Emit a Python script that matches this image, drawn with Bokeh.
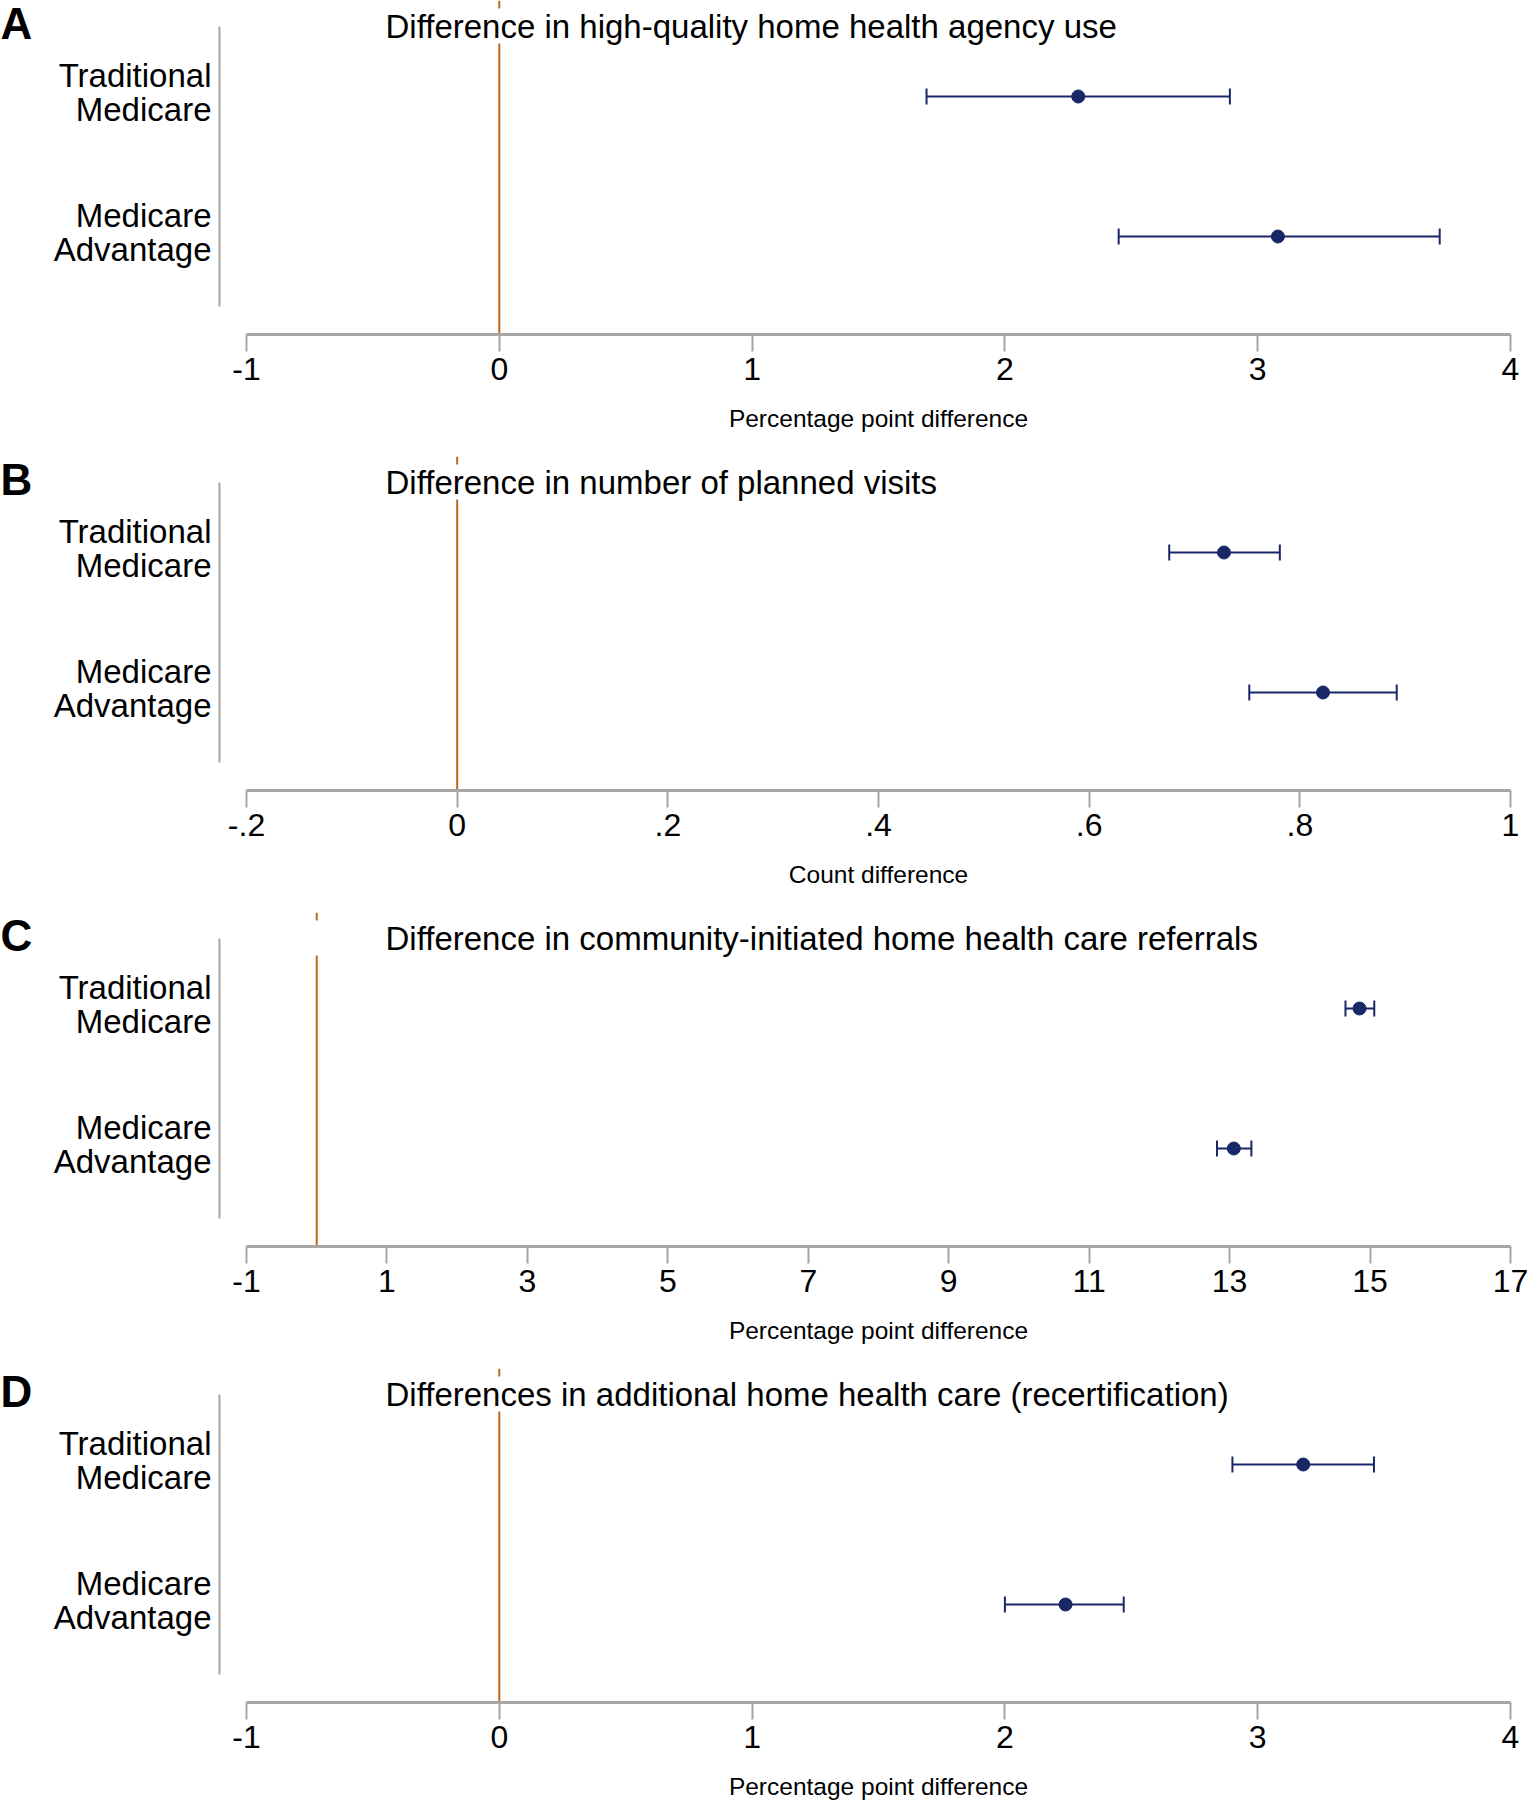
from bokeh.plotting import figure
from bokeh.layouts import column
from bokeh.models import (ColumnDataSource, FixedTicker, Whisker, TeeHead,
                          BoxAnnotation, Label, Range1d)
from bokeh.embed import file_html
from bokeh.resources import INLINE

# ---- data -------------------------------------------------------------
groups = ["Traditional\nMedicare", "Medicare\nAdvantage"]
panel_letters = ["A", "B", "C", "D"]
panel_titles = [
    "Difference in high-quality home health agency use",
    "Difference in number of planned visits",
    "Difference in community-initiated home health care referrals",
    "Differences in additional home health care (recertification)",
]
axis_titles = [
    "Percentage point difference",
    "Count difference",
    "Percentage point difference",
    "Percentage point difference",
]

# point estimates and 95% CI bounds, ordered as in `groups`
est_a = [2.29, 3.08]
lo_a = [1.69, 2.45]
hi_a = [2.89, 3.72]

est_b = [0.728, 0.822]
lo_b = [0.676, 0.752]
hi_b = [0.781, 0.892]

est_c = [14.85, 13.06]
lo_c = [14.65, 12.82]
hi_c = [15.06, 13.31]

est_d = [3.18, 2.24]
lo_d = [2.90, 2.00]
hi_d = [3.46, 2.47]

ticks_a = [-1, 0, 1, 2, 3, 4]
ticks_b = [-0.2, 0, 0.2, 0.4, 0.6, 0.8, 1.0]
tick_labels_b = ["-.2", "0", ".2", ".4", ".6", ".8", "1"]
ticks_c = [-1, 1, 3, 5, 7, 9, 11, 13, 15, 17]
ticks_d = [-1, 0, 1, 2, 3, 4]

# ---- styling ----------------------------------------------------------
FONT = "Liberation Sans"
NAVY = "#1a2766"
ORANGE = "#bf661c"
GRAY = "#a6a6a6"

W = 1528
YAXIS_PX = 219       # x pixel of the vertical category axis line
AXIS_L = 246         # pixel where first x tick sits
AXIS_R = 1510        # pixel where last x tick sits
AXIS_Y_PX = 334      # y pixel of the x-axis line (from panel top)
PX_PER_ROW = 140.0   # vertical distance between the two rows
ROW1_PX = 96         # y pixel of the top row
LABEL_LIFT = 4 / PX_PER_ROW   # category labels sit slightly above their row


def panel(letter, title, xlabel, est, lo, hi, ticks, tick_labels=None, height=456):
    n = len(groups)
    ypos = [n - i for i in range(n)]          # first group on top
    lo_t, hi_t = ticks[0], ticks[-1]
    ppu = (AXIS_R - AXIS_L) / (hi_t - lo_t)
    x0 = lo_t - AXIS_L / ppu
    x1 = hi_t + (W - AXIS_R) / ppu
    y_top = n + ROW1_PX / PX_PER_ROW
    y_axis = y_top - AXIS_Y_PX / PX_PER_ROW
    y_bot = y_top - height / PX_PER_ROW

    p = figure(width=W, height=height, output_backend="svg", toolbar_location=None,
               x_range=Range1d(x0, x1), y_range=Range1d(y_bot, y_top),
               min_border=0, min_border_left=0, min_border_right=0,
               min_border_top=0, min_border_bottom=0)
    p.outline_line_color = None
    p.grid.visible = False
    p.background_fill_color = "white"
    p.border_fill_color = "white"

    # x axis, pinned below the data area
    xa = p.xaxis[0]
    xa.fixed_location = y_axis
    xa.ticker = FixedTicker(ticks=ticks)
    xa.bounds = (lo_t, hi_t)
    xa.axis_line_color = GRAY
    xa.axis_line_width = 3
    xa.major_tick_line_color = GRAY
    xa.major_tick_line_width = 2
    xa.major_tick_out = 17
    xa.major_tick_in = 0
    xa.minor_tick_line_color = None
    xa.major_label_standoff = 6
    xa.major_label_text_font = FONT
    xa.major_label_text_font_size = "32px"
    xa.major_label_text_color = "black"
    if tick_labels is not None:
        xa.major_label_overrides = {t: s for t, s in zip(ticks, tick_labels)}
    else:
        xa.major_label_overrides = {t: str(t) for t in ticks}

    # category axis
    label_pos = [y + LABEL_LIFT for y in ypos]
    ya = p.yaxis[0]
    ya.fixed_location = x0 + YAXIS_PX / ppu
    ya.ticker = FixedTicker(ticks=label_pos)
    ya.bounds = (0.5, n + 0.5)
    ya.axis_line_color = GRAY
    ya.axis_line_width = 2
    ya.major_tick_line_color = None
    ya.minor_tick_line_color = None
    ya.major_tick_out = 0
    ya.major_tick_in = 0
    ya.major_label_standoff = 8
    ya.major_label_text_font = FONT
    ya.major_label_text_font_size = "33px"
    ya.major_label_text_color = "black"
    ya.major_label_text_line_height = 0.9
    ya.major_label_overrides = {y: g for y, g in zip(label_pos, groups)}

    # reference line at zero, interrupted by the title band
    p.segment(x0=[0], y0=[y_axis], x1=[0], y1=[y_top], line_color=ORANGE, line_width=2)
    p.add_layout(BoxAnnotation(left=lo_t, right=None,
                               top=y_top - 8 / PX_PER_ROW, bottom=y_top - 43 / PX_PER_ROW,
                               fill_color="white", fill_alpha=1.0, line_color=None))

    src = ColumnDataSource(dict(y=ypos, est=est, lo=lo, hi=hi))
    head = dict(size=16, line_color=NAVY, line_width=2)
    p.add_layout(Whisker(source=src, base="y", lower="lo", upper="hi", dimension="width",
                         line_color=NAVY, line_width=2,
                         lower_head=TeeHead(**head), upper_head=TeeHead(**head)))
    p.scatter(x="est", y="y", source=src, size=13, fill_color=NAVY, line_color=NAVY)

    # panel title
    p.add_layout(Label(x=385, x_units="screen", y=y_top - 26 / PX_PER_ROW,
                       text=title, text_font=FONT, text_font_size="33px",
                       text_color="black", text_baseline="middle", text_align="left"))
    # panel letter
    p.add_layout(Label(x=0, x_units="screen", y=y_top - 23 / PX_PER_ROW,
                       text=letter, text_font=FONT, text_font_size="44px",
                       text_font_style="bold", text_color="black",
                       text_baseline="middle", text_align="left"))
    # x axis title, centred under the ticked span
    p.add_layout(Label(x=(lo_t + hi_t) / 2, y=y_axis - 84 / PX_PER_ROW,
                       text=xlabel, text_font=FONT, text_font_size="24.5px",
                       text_color="black", text_baseline="middle", text_align="center"))
    return p


panels = [
    panel(panel_letters[0], panel_titles[0], axis_titles[0], est_a, lo_a, hi_a, ticks_a),
    panel(panel_letters[1], panel_titles[1], axis_titles[1], est_b, lo_b, hi_b, ticks_b, tick_labels_b),
    panel(panel_letters[2], panel_titles[2], axis_titles[2], est_c, lo_c, hi_c, ticks_c),
    panel(panel_letters[3], panel_titles[3], axis_titles[3], est_d, lo_d, hi_d, ticks_d, height=432),
]

layout = column(*panels, spacing=0)
open("out.html", "w").write(file_html(layout, INLINE))
